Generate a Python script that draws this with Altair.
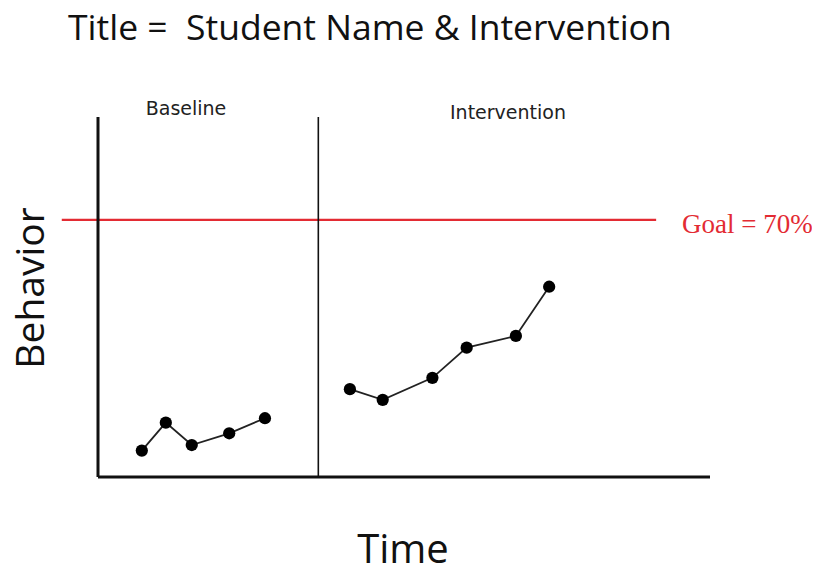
import altair as alt
import pandas as pd

# Data
baseline_x = [1.79, 2.77, 3.83, 5.36, 6.82]
baseline_y = [7.2, 14.8, 8.7, 11.9, 16.0]
intervention_x = [10.29, 11.63, 13.66, 15.06, 17.07, 18.43]
intervention_y = [23.9, 21.0, 27.0, 35.2, 38.4, 51.8]
phase_change_x = 9.0
goal_value = 70
goal_x_range = [-1.48, 22.8]
x_max = 25
y_max = 98

title_text = "Title =\u00a0 Student Name & Intervention"
phase_labels = ["Baseline", "Intervention"]
goal_label = "Goal = 70%"
x_title = "Time"
y_title = "Behavior"

RED = "#e32b33"

pts = pd.DataFrame({
    "t": baseline_x + intervention_x,
    "b": baseline_y + intervention_y,
    "phase": [phase_labels[0]] * len(baseline_x) + [phase_labels[1]] * len(intervention_x),
})

xs = alt.Scale(domain=[0, x_max], nice=False, zero=False)
ys = alt.Scale(domain=[0, y_max], nice=False, zero=False)

X = lambda f: alt.X(f, type="quantitative", scale=xs, axis=None)
Y = lambda f: alt.Y(f, type="quantitative", scale=ys, axis=None)

lines = alt.Chart(pts).mark_line(color="#222222", strokeWidth=1.8).encode(
    x=X("t"), y=Y("b"), detail="phase:N"
)
dots = alt.Chart(pts).mark_point(filled=True, color="#000000", opacity=1, size=150).encode(
    x=X("t"), y=Y("b")
)

axes_df = pd.DataFrame({
    "x1": [0, 0, phase_change_x],
    "x2": [0, x_max, phase_change_x],
    "y1": [0, 0, 0],
    "y2": [y_max, 0, y_max],
    "w": [3, 3, 1.6],
    "kind": ["y", "x", "phase"],
})
axis_lines = alt.Chart(axes_df).mark_rule(color="#111111").encode(
    x=X("x1"), x2="x2", y=Y("y1"), y2="y2",
    strokeWidth=alt.StrokeWidth("w:Q", scale=None, legend=None),
)

goal_df = pd.DataFrame({"x1": [goal_x_range[0]], "x2": [goal_x_range[1]], "y": [goal_value]})
goal_line = alt.Chart(goal_df).mark_rule(color=RED, strokeWidth=2.2).encode(
    x=X("x1"), x2="x2", y=Y("y")
)

def label(text, x, y, size, font="Open Sans", color="#111111", align="left",
          baseline="alphabetic", angle=0):
    kw = dict(text=text, font=font, fontSize=size, color=color, align=align, baseline=baseline)
    if angle:
        kw["angle"] = angle
    return alt.Chart(pd.DataFrame({"a": [0]})).mark_text(**kw).encode(
        x=alt.value(x), y=alt.value(y)
    )

texts = [
    label(title_text, -30, -77, 35.5),
    label(phase_labels[0], 88, -2, 19, font="DejaVu Sans", color="#222222", align="center"),
    label(phase_labels[1], 410, 2, 19, font="DejaVu Sans", color="#222222", align="center"),
    label(goal_label, 584, 116, 27, font="Liberation Serif", color=RED),
    label(y_title, -54, 171, 39, align="center", angle=270),
    label(x_title, 305, 446, 40, align="center"),
]

chart = alt.layer(goal_line, axis_lines, lines, dots, *texts).properties(
    width=612,
    height=360,
    autosize=alt.AutoSizeParams(type="none"),
    padding={"left": 90, "top": 109, "right": 102, "bottom": 90},
).configure_view(stroke=None)

chart.save("out.html", embed_options={"renderer": "svg", "actions": False})
